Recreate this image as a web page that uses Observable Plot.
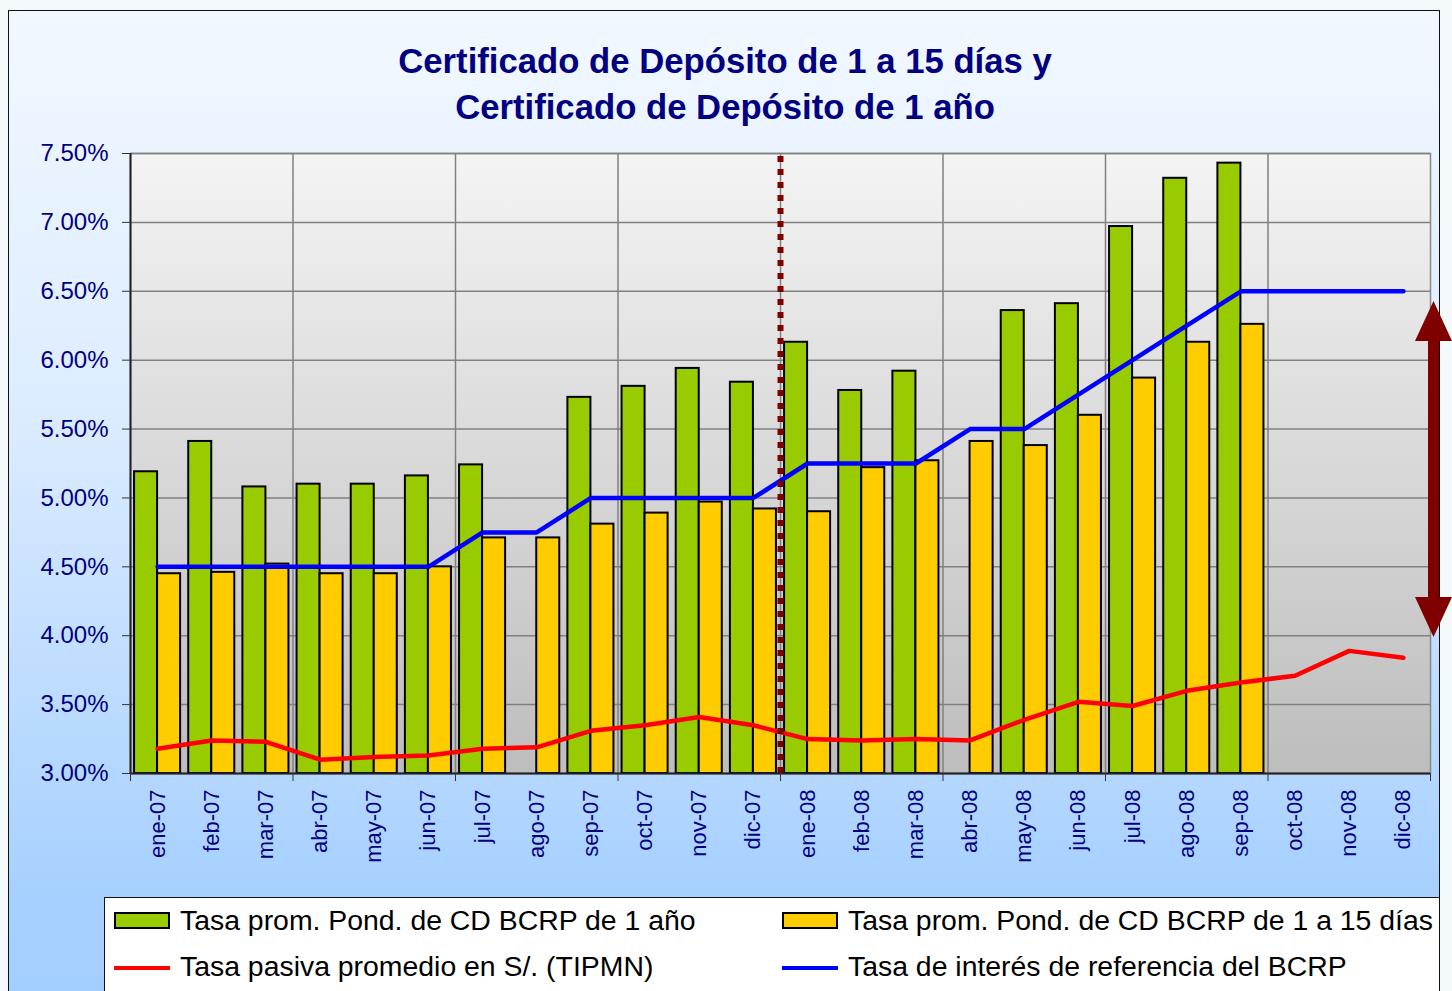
<!DOCTYPE html>
<html>
<head>
<meta charset="utf-8">
<script src="https://cdn.jsdelivr.net/npm/d3@7"></script>
<script src="https://cdn.jsdelivr.net/npm/@observablehq/plot@0.6"></script>
<style>
  html, body { margin: 0; padding: 0; background: #f4f9fb; }
  #wrap { position: relative; width: 1452px; height: 991px; overflow: hidden; background: #f4f9fb; font-family: "Liberation Sans", Arial, sans-serif; }
  #frame { position: absolute; left: 8px; top: 10px; width: 1432px; height: 1010px; border: 1.5px solid #111; box-sizing: border-box;
           background: linear-gradient(to bottom, #f2f8ff 0%, #dcecff 40%, #a6d0ff 88%, #a2ceff 100%); }
  #title { position: absolute; left: 8px; top: 38px; width: 1434px; text-align: center; font-weight: bold; font-size: 34.7px; line-height: 46px; color: #000080; }
  #chart { position: absolute; left: 0; top: 0; }
  #legend { position: absolute; left: 104px; top: 897px; width: 1336px; height: 200px; background: #fff; border: 1.5px solid #111; box-sizing: border-box; }
  .item { position: absolute; height: 46px; line-height: 46px; font-size: 28.4px; color: #000; white-space: nowrap; }
  .sw { position: absolute; }
</style>
</head>
<body>
<div id="wrap">
  <div id="frame"></div>
  <div id="title">Certificado de Depósito de 1 a 15 días y<br>Certificado de Depósito de 1 año</div>
  <div id="chart"></div>
  <div id="legend"></div>
</div>
<script>
// ---------- DATA ----------
const months = ["ene-07","feb-07","mar-07","abr-07","may-07","jun-07","jul-07","ago-07","sep-07","oct-07","nov-07","dic-07",
                "ene-08","feb-08","mar-08","abr-08","may-08","jun-08","jul-08","ago-08","sep-08","oct-08","nov-08","dic-08"];
const cd1Year  = [5.19, 5.41, 5.08, 5.10, 5.10, 5.16, 5.24, null, 5.73, 5.81, 5.94, 5.84,
                  6.13, 5.78, 5.92, null, 6.36, 6.41, 6.97, 7.32, 7.43, null, null, null];
const cd15Days = [4.45, 4.46, 4.52, 4.45, 4.45, 4.50, 4.71, 4.71, 4.81, 4.89, 4.97, 4.92,
                  4.90, 5.22, 5.27, 5.41, 5.38, 5.60, 5.87, 6.13, 6.26, null, null, null];
const tipmn    = [3.18, 3.24, 3.23, 3.10, 3.12, 3.13, 3.18, 3.19, 3.31, 3.35, 3.41, 3.35,
                  3.25, 3.24, 3.25, 3.24, 3.39, 3.52, 3.49, 3.60, 3.66, 3.71, 3.89, 3.84];
const refRate  = [4.50, 4.50, 4.50, 4.50, 4.50, 4.50, 4.75, 4.75, 5.00, 5.00, 5.00, 5.00,
                  5.25, 5.25, 5.25, 5.50, 5.50, 5.75, 6.00, 6.25, 6.50, 6.50, 6.50, 6.50];
const yTicks = [3.0, 3.5, 4.0, 4.5, 5.0, 5.5, 6.0, 6.5, 7.0, 7.5];
const dividerMonth = "ene-08";
const arrowRange = [6.43, 3.99];

const seriesNames = {
  cd1: "Tasa prom. Pond. de CD BCRP de 1 año",
  cd15: "Tasa prom. Pond. de CD BCRP de 1 a 15 días",
  tipmn: "Tasa pasiva promedio en S/. (TIPMN)",
  ref: "Tasa de interés de referencia del BCRP"
};

// ---------- BUILD ----------
const idx = months.map((m, i) => i);
const n = months.length;
const dividerIndex = months.indexOf(dividerMonth);
const gridXTicks = d3.range(3, n, 3);
const boundaryTicks = d3.range(0, n + 1, 3);

const GREEN = "#99cc00", YELLOW = "#ffcc00", RED = "#ff0000", BLUE = "#0000ff", DARKRED = "#800000", NAVY = "#000080";

const headUp = { draw(ctx) { ctx.moveTo(0, 0); ctx.lineTo(18.5, 40); ctx.lineTo(-18.5, 40); ctx.closePath(); } };

const chart = Plot.plot({
  width: 1452,
  height: 897,
  marginLeft: 130,
  marginRight: 22,
  marginTop: 153,
  marginBottom: 124,
  style: { fontFamily: "'Liberation Sans', Arial, sans-serif", background: "transparent", overflow: "visible" },
  x: { type: "linear", domain: [0, n], axis: null },
  y: { domain: [3, 7.5], axis: null },
  marks: [
    Plot.frame({ fill: "url(#plotBg)", stroke: "#888", strokeWidth: 1.5 }),
    Plot.gridY({ ticks: yTicks, stroke: "#808080", strokeOpacity: 1, strokeWidth: 1.5 }),
    Plot.gridX({ ticks: gridXTicks, stroke: "#808080", strokeOpacity: 1, strokeWidth: 1.5 }),
    Plot.rect(idx.filter(i => cd1Year[i] != null), {
      x1: i => i + 0.075, x2: i => i + 0.5, y1: 3, y2: i => cd1Year[i],
      fill: GREEN, stroke: "#000", strokeWidth: 2
    }),
    Plot.rect(idx.filter(i => cd15Days[i] != null), {
      x1: i => i + 0.5, x2: i => i + 0.925, y1: 3, y2: i => cd15Days[i],
      fill: YELLOW, stroke: "#000", strokeWidth: 2
    }),
    Plot.line(idx, { x: i => i + 0.5, y: i => tipmn[i], stroke: RED, strokeWidth: 4.5 }),
    Plot.line(idx, { x: i => i + 0.5, y: i => refRate[i], stroke: BLUE, strokeWidth: 4.5 }),
    Plot.ruleX([dividerIndex], { x: d => d, y1: 3, y2: 7.5, stroke: DARKRED, strokeWidth: 6, strokeDasharray: "6,7" }),
    Plot.ruleX([0], { stroke: "#222", strokeWidth: 2 }),
    Plot.ruleY([3], { stroke: "#222", strokeWidth: 2 }),
    Plot.axisY({ ticks: yTicks, tickFormat: d => d.toFixed(2) + "%", tickSize: 8, tickPadding: 14,
                 fontSize: 24, fill: NAVY, stroke: "#333", label: null }),
    Plot.axisX({ ticks: boundaryTicks, tickFormat: () => "", tickSize: 8, stroke: "#333", label: null }),
    Plot.axisX({ ticks: idx.map(i => i + 0.5), tickFormat: d => months[Math.floor(d)], tickSize: 0, tickPadding: 16,
                 tickRotate: -90, fontSize: 22, fill: NAVY, label: null }),
    // spread arrow annotation
    Plot.ruleX([arrowRange], { x: () => n, dx: 3, y1: d => d[0], y2: d => d[1], insetTop: 36, insetBottom: 36,
                               stroke: DARKRED, strokeWidth: 11 }),
    Plot.dot([arrowRange[0]], { x: () => n, y: d => d, dx: 3, symbol: headUp, r: 10, fill: DARKRED, stroke: "none" }),
    Plot.dot([arrowRange[1]], { x: () => n, y: d => d, dx: 3, symbol: headUp, r: 10, fill: DARKRED, stroke: "none", rotate: 180 })
  ]
});

d3.select(chart).insert("defs", ":first-child").html(
  '<linearGradient id="plotBg" x1="0" y1="0" x2="0" y2="1">' +
  '<stop offset="0%" stop-color="#f4f4f4"/><stop offset="100%" stop-color="#bdbdbd"/></linearGradient>'
);
document.getElementById("chart").appendChild(chart);

// ---------- LEGEND ----------
const legend = document.getElementById("legend");
const entries = [
  { key: "cd1", type: "box", color: GREEN, col: 0, row: 0 },
  { key: "cd15", type: "box", color: YELLOW, col: 1, row: 0 },
  { key: "tipmn", type: "line", color: RED, col: 0, row: 1 },
  { key: "ref", type: "line", color: BLUE, col: 1, row: 1 }
];
const colX = [9, 677];
entries.forEach(e => {
  const top = e.row * 46 - 1;
  const sw = document.createElement("div");
  sw.className = "sw";
  sw.style.left = colX[e.col] + "px";
  if (e.type === "box") {
    sw.style.top = (top + 15) + "px";
    sw.style.width = "56px"; sw.style.height = "17px";
    sw.style.background = e.color; sw.style.border = "2px solid #000"; sw.style.boxSizing = "border-box";
  } else {
    sw.style.top = (top + 23) + "px";
    sw.style.width = "56px"; sw.style.height = "4px"; sw.style.background = e.color;
  }
  legend.appendChild(sw);
  const t = document.createElement("div");
  t.className = "item";
  t.style.left = (colX[e.col] + 66) + "px";
  t.style.top = top + "px";
  t.textContent = seriesNames[e.key];
  legend.appendChild(t);
});
</script>
</body>
</html>
